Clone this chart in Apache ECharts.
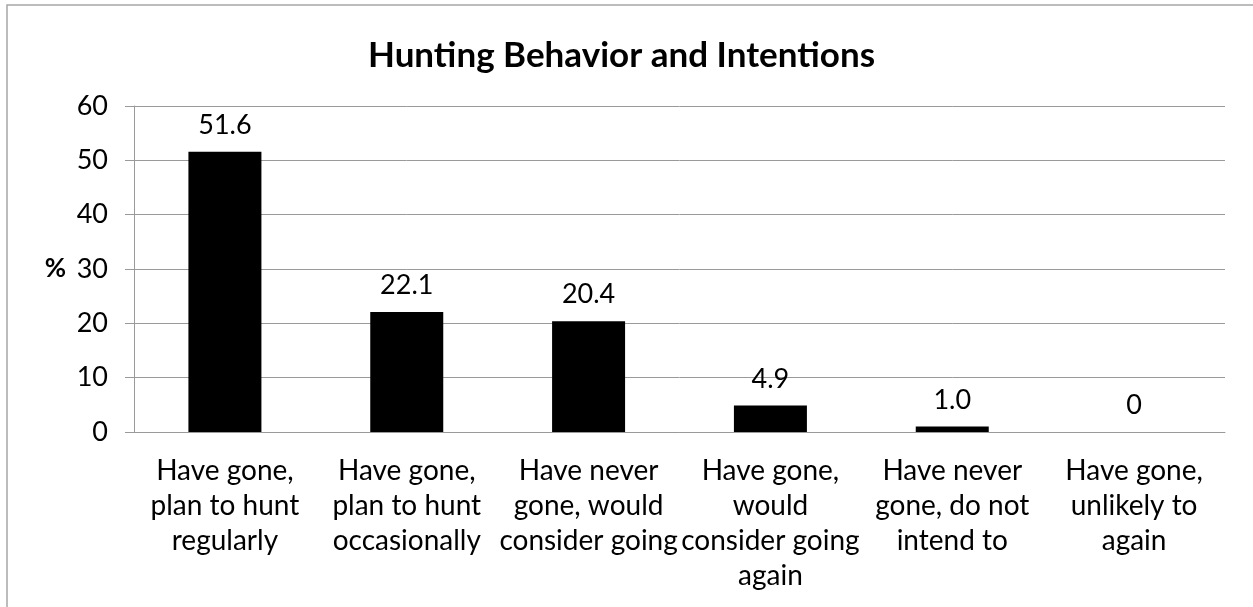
<!DOCTYPE html>
<html>
<head>
<meta charset="utf-8">
<script src="https://cdn.jsdelivr.net/npm/echarts@6/dist/echarts.min.js"></script>
<style>
  html, body { margin: 0; padding: 0; background: #fff; }
  #chart { width: 1253px; height: 607px; }
</style>
</head>
<body>
<div id="chart"></div>
<script>
// categories, values and the printed labels above the bars
var categories = [
    'Have gone,\nplan to hunt\nregularly',
    'Have gone,\nplan to hunt\noccasionally',
    'Have never\ngone, would\nconsider going',
    'Have gone,\nwould\nconsider going\nagain',
    'Have never\ngone, do not\nintend to',
    'Have gone,\nunlikely to\nagain'
];
var percents = [51.6, 22.1, 20.4, 4.9, 1.0, 0];
var valueLabels = ['51.6', '22.1', '20.4', '4.9', '1.0', '0'];
var yTicks = [0, 10, 20, 30, 40, 50, 60];

var fontName = 'Lato, "Open Sans", sans-serif';
var lineColor = '#9a9a9a';

var chart = echarts.init(document.getElementById('chart'));

var option = {
    animation: false,
    textStyle: { fontFamily: fontName, color: '#000' },
    title: {
        text: 'Hunting Behavior and Intentions',
        left: 363,
        top: 33,
        textStyle: { fontFamily: fontName, fontSize: 35, fontWeight: 'bold', color: '#000' }
    },
    graphic: [{
        type: 'rect',
        shape: { x: 7, y: 5, width: 1400, height: 800 },
        style: { fill: 'none', stroke: '#a6a6a6', lineWidth: 1.5 },
        silent: true
    }],
    grid: { left: 134, right: 28, top: 106, bottom: 175 },
    xAxis: {
        type: 'category',
        data: categories,
        axisLine: { lineStyle: { color: lineColor } },
        axisTick: { length: 8, lineStyle: { color: lineColor } },
        axisLabel: {
            interval: 0,
            margin: 21,
            fontSize: 28,
            lineHeight: 35,
            color: '#000',
            fontFamily: fontName
        }
    },
    yAxis: {
        type: 'value',
        min: yTicks[0],
        max: yTicks[yTicks.length - 1],
        interval: 10,
        name: '%',
        nameLocation: 'middle',
        nameRotate: 0,
        nameGap: 68,
        nameTextStyle: { fontSize: 26, fontWeight: 'bold', color: '#000', fontFamily: fontName },
        axisLine: { show: true, lineStyle: { color: lineColor } },
        axisTick: { show: true, length: 9, lineStyle: { color: lineColor } },
        axisLabel: { margin: 26, fontSize: 27, color: '#000', fontFamily: fontName },
        splitLine: { lineStyle: { color: lineColor } }
    },
    series: [{
        type: 'bar',
        data: percents,
        barWidth: 73,
        itemStyle: { color: '#000' },
        label: {
            show: true,
            position: 'top',
            distance: 13,
            fontSize: 27,
            color: '#000',
            fontFamily: fontName,
            formatter: function (p) { return valueLabels[p.dataIndex]; }
        }
    }]
};

chart.setOption(option);
</script>
</body>
</html>
